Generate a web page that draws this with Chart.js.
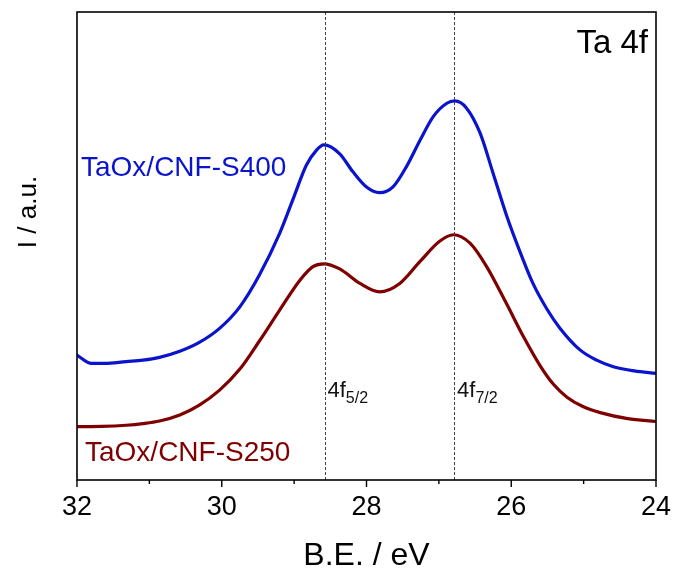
<!DOCTYPE html>
<html>
<head>
<meta charset="utf-8">
<script src="https://cdn.jsdelivr.net/npm/chart.js@4.4.0/dist/chart.umd.min.js"></script>
<style>
  html, body { margin: 0; padding: 0; background: #fff; }
</style>
</head>
<body>
<canvas id="xpsChart" width="673" height="572"></canvas>
<script>
// binding energy (eV) and intensity (a.u.) for each sample
const be400 = [32.0, 31.80, 31.62, 31.32, 31.09, 30.86, 30.58, 30.31, 30.03, 29.75, 29.48, 29.20, 29.02, 28.83, 28.69, 28.59, 28.37, 28.19, 28.00, 27.82, 27.63, 27.45, 27.26, 27.08, 26.89, 26.78, 26.62, 26.43, 26.25, 26.06, 25.88, 25.70, 25.51, 25.33, 25.05, 24.82, 24.59, 24.30, 24.0];
const int400 = [26.7, 24.9, 24.9, 25.3, 25.6, 26.2, 27.5, 29.4, 32.4, 37.0, 43.8, 52.7, 59.8, 67.3, 70.5, 71.6, 69.7, 65.9, 62.6, 61.4, 62.7, 66.9, 72.6, 77.6, 80.5, 81.0, 79.5, 74.1, 65.5, 56.3, 48.8, 42.0, 36.6, 32.5, 27.8, 25.6, 24.2, 23.3, 22.8];

const be250 = [32.0, 31.66, 31.32, 31.09, 30.86, 30.58, 30.31, 30.03, 29.75, 29.48, 29.20, 28.92, 28.74, 28.59, 28.37, 28.09, 27.82, 27.54, 27.26, 26.99, 26.80, 26.57, 26.34, 26.07, 25.83, 25.60, 25.42, 25.23, 25.01, 24.77, 24.39, 24.0];
const int250 = [11.4, 11.45, 11.7, 12.05, 12.6, 13.9, 16.0, 19.2, 23.7, 29.7, 36.3, 42.7, 45.6, 46.2, 45.1, 42.0, 40.2, 42.0, 46.7, 51.0, 52.4, 50.6, 45.6, 37.8, 30.6, 24.4, 20.5, 17.7, 15.7, 14.4, 13.1, 12.5];

const seriesNames = ['TaOx/CNF-S400', 'TaOx/CNF-S250'];
const peakBE = [28.58, 26.79];
const peakNames = [['4f', '5/2'], ['4f', '7/2']];
const xTicks = [24, 26, 28, 30, 32];

const BLUE = '#0a14cc';
const RED = '#7f0000';
const FONT = '"Liberation Sans", Arial, sans-serif';

function toPoints(xs, ys) {
    return xs.map((x, i) => ({ x: x, y: ys[i] }));
}

// frame, tick marks, reference lines and text labels
const decorPlugin = {
    id: 'decor',
    afterDatasetsDraw(chart) {
        const ctx = chart.ctx;
        const area = chart.chartArea;
        const xs = chart.scales.x;
        ctx.save();

        // dashed peak positions
        ctx.strokeStyle = '#444';
        ctx.lineWidth = 1;
        ctx.setLineDash([3, 2]);
        peakBE.forEach(v => {
            const px = Math.round(xs.getPixelForValue(v)) + 0.5;
            ctx.beginPath();
            ctx.moveTo(px, area.top);
            ctx.lineTo(px, area.bottom);
            ctx.stroke();
        });
        ctx.setLineDash([]);

        // box around the plot
        ctx.strokeStyle = '#000';
        ctx.lineWidth = 1.6;
        ctx.strokeRect(area.left, area.top, area.right - area.left, area.bottom - area.top);

        // major and minor ticks on the bottom axis
        ctx.lineWidth = 1.4;
        for (let v = 24; v <= 32; v++) {
            const px = xs.getPixelForValue(v);
            const len = v % 2 === 0 ? 7 : 4;
            ctx.beginPath();
            ctx.moveTo(px, area.bottom);
            ctx.lineTo(px, area.bottom + len);
            ctx.stroke();
        }

        // peak labels with subscripts
        ctx.fillStyle = '#111';
        ctx.textBaseline = 'alphabetic';
        ctx.textAlign = 'left';
        peakBE.forEach((v, i) => {
            const px = xs.getPixelForValue(v) + 3;
            const base = 397;
            ctx.font = '22px ' + FONT;
            ctx.fillText(peakNames[i][0], px, base);
            const w = ctx.measureText(peakNames[i][0]).width;
            ctx.font = '16px ' + FONT;
            ctx.fillText(peakNames[i][1], px + w, base + 6);
        });

        // sample names
        ctx.font = '28px ' + FONT;
        ctx.fillStyle = BLUE;
        ctx.fillText(seriesNames[0], area.left + 4, 176);
        ctx.fillStyle = RED;
        ctx.fillText(seriesNames[1], area.left + 8, 461);

        // core level
        ctx.fillStyle = '#000';
        ctx.font = '33px ' + FONT;
        ctx.textAlign = 'right';
        ctx.fillText('Ta 4f', area.right - 8, 53);

        // y axis title
        ctx.translate(29, 212);
        ctx.rotate(-Math.PI / 2);
        ctx.textAlign = 'center';
        ctx.textBaseline = 'middle';
        ctx.font = '26px ' + FONT;
        ctx.fillText('I / a.u.', 0, 0);

        ctx.restore();
    }
};

new Chart(document.getElementById('xpsChart'), {
    type: 'line',
    data: {
        datasets: [{
            label: seriesNames[0],
            data: toPoints(be400, int400),
            borderColor: BLUE,
            borderWidth: 3.2,
            pointRadius: 0,
            cubicInterpolationMode: 'monotone',
            fill: false
        }, {
            label: seriesNames[1],
            data: toPoints(be250, int250),
            borderColor: RED,
            borderWidth: 3.2,
            pointRadius: 0,
            cubicInterpolationMode: 'monotone',
            fill: false
        }]
    },
    options: {
        responsive: false,
        animation: false,
        layout: { padding: { top: 12, right: 17, left: 0, bottom: 0 } },
        plugins: {
            legend: { display: false },
            tooltip: { enabled: false }
        },
        scales: {
            x: {
                type: 'linear',
                reverse: true,
                min: 24,
                max: 32,
                afterFit: s => { s.height = 92; },
                afterBuildTicks: s => { s.ticks = xTicks.map(v => ({ value: v })); },
                grid: { display: false, drawTicks: false },
                border: { display: false },
                ticks: {
                    color: '#000',
                    padding: 11,
                    maxRotation: 0,
                    font: { family: FONT, size: 27 }
                },
                title: {
                    display: true,
                    text: 'B.E. / eV',
                    color: '#000',
                    font: { family: FONT, size: 32, lineHeight: 1 },
                    padding: { top: 0, bottom: 0 }
                }
            },
            y: {
                min: 0,
                max: 100,
                afterFit: s => { s.width = 77; },
                grid: { display: false },
                border: { display: false },
                ticks: { display: false }
            }
        }
    },
    plugins: [decorPlugin]
});
</script>
</body>
</html>
